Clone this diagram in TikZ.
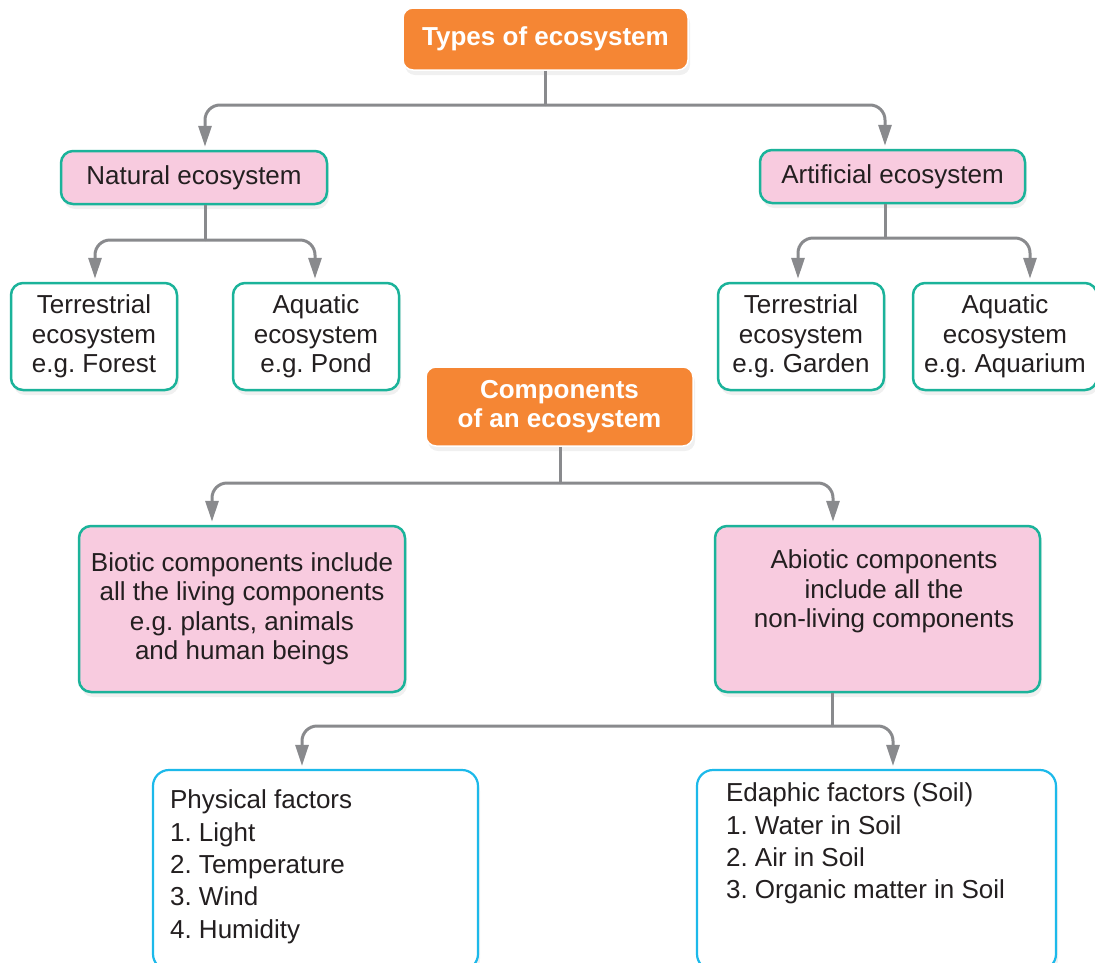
\documentclass[tikz,border=0pt]{standalone}
\usepackage{fontspec}
\setmainfont{Liberation Sans}
\usepackage{xcolor}
\definecolor{title-orange}{HTML}{F58634}
\definecolor{soft-pink}{HTML}{F8CBDF}
\definecolor{teal-edge}{HTML}{1BB39A}
\definecolor{sky-edge}{HTML}{1CB9EA}
\definecolor{link-gray}{HTML}{898A8D}
\definecolor{ink}{HTML}{231F20}
\usetikzlibrary{arrows.meta, shadows}
\frenchspacing

\begin{document}
\begin{tikzpicture}[x=1pt, y=-1pt,
    every node/.style={font=\fontsize{26}{29.5}\selectfont, text=ink, inner sep=0pt},
    softshadow/.style={drop shadow={opacity=0.12, shadow xshift=2pt, shadow yshift=-5pt}},
    headbox/.style={fill=title-orange, draw=white, line width=1.5pt, rounded corners=10pt,
      text=white, font=\fontsize{26}{29}\selectfont\bfseries, align=center, softshadow},
    pinkbox/.style={fill=soft-pink, draw=teal-edge, line width=2.5pt, rounded corners=12pt,
      align=center, softshadow},
    whitebox/.style={fill=white, draw=teal-edge, line width=2.5pt, rounded corners=12pt,
      align=center, softshadow},
    listbox/.style={fill=white, draw=sky-edge, line width=2.2pt, rounded corners=16pt, softshadow},
    listtext/.style={font=\fontsize{26}{32.3}\selectfont, align=left, anchor=north west},
    stem/.style={draw=link-gray, line width=3pt},
    link/.style={stem, rounded corners=15pt, -{Triangle[length=21pt, width=13pt]}, shorten >=3pt}
  ]
    \useasboundingbox (0,0) rectangle (1095,962);

    % types of ecosystem
    \node[headbox, minimum width=285, minimum height=62] (types) at (545.5,39) {Types of ecosystem};
    \node[pinkbox, minimum width=266, minimum height=53] (natural) at (194,177.5) {Natural ecosystem};
    \node[pinkbox, minimum width=265, minimum height=53] (artificial) at (892.5,176.5) {Artificial ecosystem};
    \node[whitebox, minimum width=166, minimum height=107] (forest) at (94,336.5) {Terrestrial\\ecosystem\\e.g. Forest};
    \node[whitebox, minimum width=166, minimum height=107] (pond) at (316,336.5) {Aquatic\\ecosystem\\e.g. Pond};
    \node[whitebox, minimum width=166, minimum height=107] (garden) at (801,336.5) {Terrestrial\\ecosystem\\e.g. Garden};
    \node[whitebox, minimum width=184, minimum height=107] (aquarium) at (1005,336.5) {Aquatic\\ecosystem\\e.g. Aquarium};

    \coordinate (typesjoin) at (545,105);
    \draw[stem] (typesjoin |- types.south) -- (typesjoin);
    \draw[link] (typesjoin) -| ([xshift=11]natural.north);
    \draw[link] (typesjoin) -| ([xshift=-7.5]artificial.north);

    \coordinate (naturaljoin) at (205,240);
    \draw[stem] (naturaljoin |- natural.south) -- (naturaljoin);
    \draw[link] (naturaljoin) -| ([xshift=1]forest.north);
    \draw[link] (naturaljoin) -| ([xshift=-1]pond.north);

    \coordinate (artificialjoin) at (885,238);
    \draw[stem] (artificialjoin |- artificial.south) -- (artificialjoin);
    \draw[link] (artificialjoin) -| ([xshift=-3]garden.north);
    \draw[link] (artificialjoin) -| ([xshift=25]aquarium.north);

    % components of an ecosystem
    \node[headbox, minimum width=267, minimum height=79] (components) at (559.5,406.5) {Components\\of an ecosystem};
    \node[pinkbox, minimum width=326, minimum height=166] (biotic) at (242,609)
      {Biotic components include\\all the living components\\e.g. plants, animals\\and human beings};
    \node[pinkbox, minimum width=325, minimum height=166] (abiotic) at (877.5,609) {};
    \node[align=center, anchor=north] (abiotictext) at ([xshift=6.5,yshift=-25]abiotic.north)
      {Abiotic components\\include all the\\non-living components};

    \coordinate (compjoin) at (560,483);
    \draw[stem] (compjoin |- components.south) -- (compjoin);
    \draw[link] (compjoin) -| ([xshift=-30]biotic.north);
    \draw[link] (compjoin) -| ([xshift=-44.5]abiotic.north);

    \node[listbox, minimum width=325, minimum height=200] (physical) at (315.5,870) {};
    \node[listtext] (physicallist) at ([xshift=18,yshift=-21]physical.north west)
      {Physical factors\\1. Light\\2. Temperature\\3. Wind\\4. Humidity};
    \node[listbox, minimum width=359, minimum height=200] (edaphic) at (876.5,870) {};
    \node[listtext] (edaphiclist) at ([xshift=30,yshift=-14]edaphic.north west)
      {Edaphic factors (Soil)\\1. Water in Soil\\2. Air in Soil\\3. Organic matter in Soil};

    \coordinate (abioticjoin) at (832,726);
    \draw[stem] (abioticjoin |- abiotic.south) -- (abioticjoin);
    \draw[link] (abioticjoin) -| ([xshift=-13.5]physical.north);
    \draw[link] (abioticjoin) -| ([xshift=16.5]edaphic.north);
  \end{tikzpicture}
\end{document}
